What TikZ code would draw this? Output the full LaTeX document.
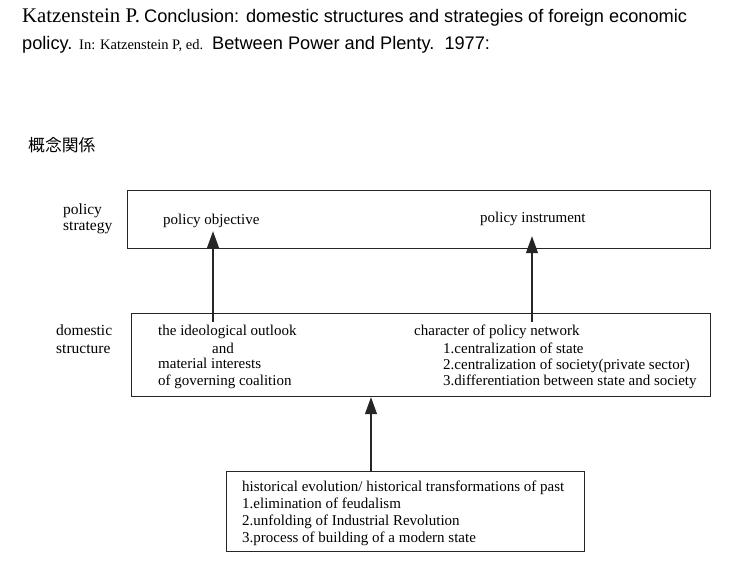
\documentclass[tikz,border=0pt]{standalone}
\usepackage{fontspec}
\setmainfont{Liberation Serif}
\newfontfamily\sans{Liberation Sans}
\newfontfamily\cjk{Noto Sans CJK JP}
\usetikzlibrary{arrows.meta}
\tikzset{
  box/.style={draw=black!85, line width=1.2pt, inner sep=0pt, anchor=north west},
  txt/.style={anchor=base west, inner sep=0pt, font=\fontsize{15}{17}\selectfont},
  lab/.style={anchor=base west, inner sep=0pt, font=\fontsize{15.5}{17}\selectfont},
  head/.style={anchor=base west, inner sep=0pt, font=\fontsize{18.2}{20}\selectfont},
  arr/.style={draw=black!85, line width=1.2pt, -{Triangle[length=17pt,width=12pt]}}
}
\begin{document}
\begin{tikzpicture}[x=1pt,y=-1pt]
\useasboundingbox (0,0) rectangle (731,561);
% reference line
\node[head, font=\fontsize{20.8}{22}\selectfont] (refa) at (22,23) {Katzenstein P.};
\node[head] (refb) at (144,23) {\sans Conclusion: domestic structures and strategies of foreign economic};
\node[head] (refc) at (22,50) {\sans policy.};
\node[head, font=\fontsize{14.5}{16}\selectfont] (refd) at (79,50) {In: Katzenstein P, ed.};
\node[head] (refe) at (212,50) {\sans Between Power and Plenty.\ \ 1977:};
\node[anchor=base west, inner sep=0pt, font=\cjk\fontsize{16.8}{18}\selectfont] (title) at (28,152) {概念関係};

% boxes
\node[box, minimum width=583pt, minimum height=58pt] (strat) at (127,190) {};
\node[box, minimum width=579pt, minimum height=83pt] (dom) at (131,313) {};
\node[box, minimum width=358pt, minimum height=80pt] (hist) at (226,471) {};

% row labels
\node[lab] (lpol) at (63,215) {policy};
\node[lab] (lstr) at (63,231) {strategy};
\node[lab] (ldom) at (56,336) {domestic};
\node[lab] (lstc) at (56,353) {structure};

% policy strategy
\node[txt] (obj) at (163,225) {policy objective};
\node[txt] (ins) at (480,223) {policy instrument};

% domestic structure
\node[txt] (id1) at (158,336) {the ideological outlook};
\node[txt] (id2) at (212,353) {and};
\node[txt] (id3) at (158,368) {material interests};
\node[txt] (id4) at (158,385) {of governing coalition};
\node[txt] (nw0) at (414,335) {character of policy network};
\node[txt] (nw1) at (443,353) {1.centralization of state};
\node[txt] (nw2) at (443,369) {2.centralization of society(private sector)};
\node[txt] (nw3) at (443,385) {3.differentiation between state and society};

% history
\node[txt] (hs0) at (242,491) {historical evolution/ historical transformations of past};
\node[txt] (hs1) at (242,508) {1.elimination of feudalism};
\node[txt] (hs2) at (242,525) {2.unfolding of Industrial Revolution};
\node[txt] (hs3) at (242,542) {3.process of building of a modern state};

% arrows
\coordinate (xa) at (213,0);
\coordinate (xb) at (532,0);
\coordinate (xc) at (371,0);
\draw[arr] ([yshift=-9pt]dom.north -| xa) -- ([yshift=18pt]strat.south -| xa);
\draw[arr] ([yshift=-9pt]dom.north -| xb) -- ([yshift=13pt]strat.south -| xb);
\draw[arr] (hist.north -| xc) -- (dom.south -| xc);
\end{tikzpicture}
\end{document}
